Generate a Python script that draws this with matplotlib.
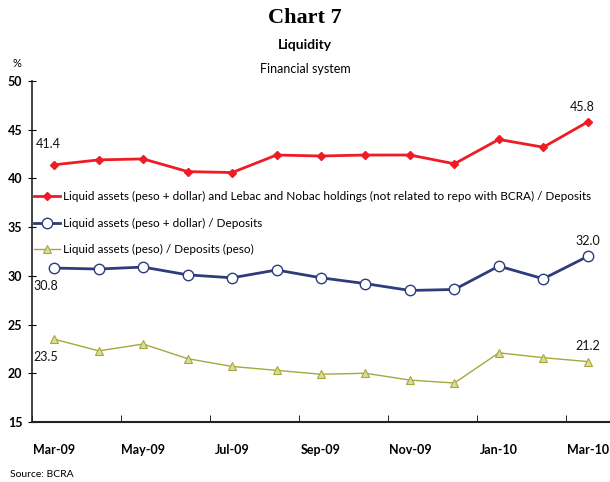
import numpy as np
import matplotlib.pyplot as plt

plt.rcParams['font.family'] = ['Lato', 'DejaVu Sans']

months = ["Mar-09", "Apr-09", "May-09", "Jun-09", "Jul-09", "Aug-09", "Sep-09",
          "Oct-09", "Nov-09", "Dec-09", "Jan-10", "Feb-10", "Mar-10"]
liq_lebac = [41.4, 41.9, 42.0, 40.7, 40.6, 42.4, 42.3, 42.4, 42.4, 41.5, 44.0, 43.2, 45.8]
liq_total = [30.8, 30.7, 30.9, 30.1, 29.8, 30.6, 29.8, 29.2, 28.5, 28.6, 31.0, 29.7, 32.0]
liq_peso = [23.5, 22.3, 23.0, 21.5, 20.7, 20.3, 19.9, 20.0, 19.3, 19.0, 22.1, 21.6, 21.2]

names = ["Liquid assets (peso + dollar) and Lebac and Nobac holdings (not related to repo with BCRA) / Deposits",
         "Liquid assets (peso + dollar) / Deposits",
         "Liquid assets (peso) / Deposits (peso)"]

x = np.arange(len(months))

fig = plt.figure(figsize=(6.1, 4.82), dpi=100)
ax = fig.add_axes([0.0525, 0.1245, 0.9475, 0.7075])

ax.plot(x, liq_lebac, color='#ee1c25', lw=2, marker='D', ms=4, label=names[0])
ax.plot(x, liq_total, color='#2e3c7c', lw=2, marker='o', ms=7.5,
        markerfacecolor='white', markeredgecolor='#2e3c7c', markeredgewidth=1, label=names[1])
ax.plot(x, liq_peso, color='#a5a83a', lw=1, marker='^', ms=6,
        markerfacecolor='#dcdc9a', markeredgecolor='#a5a83a', markeredgewidth=0.8, label=names[2])

# value labels at start and end
lab = dict(fontsize=9, color='#111111')
ax.annotate(f"{liq_lebac[0]:.1f}", (x[0], liq_lebac[0]), xytext=(-4, 12), textcoords='offset points', ha='center', **lab)
ax.annotate(f"{liq_lebac[-1]:.1f}", (x[-1], liq_lebac[-1]), xytext=(-4, 8), textcoords='offset points', ha='center', **lab)
ax.annotate(f"{liq_total[0]:.1f}", (x[0], liq_total[0]), xytext=(-6, -16), textcoords='offset points', ha='center', **lab)
ax.annotate(f"{liq_total[-1]:.1f}", (x[-1], liq_total[-1]), xytext=(0, 8), textcoords='offset points', ha='center', **lab)
ax.annotate(f"{liq_peso[0]:.1f}", (x[0], liq_peso[0]), xytext=(-6, -16), textcoords='offset points', ha='center', **lab)
ax.annotate(f"{liq_peso[-1]:.1f}", (x[-1], liq_peso[-1]), xytext=(0, 8), textcoords='offset points', ha='center', **lab)

ax.set_xlim(-0.5, len(months) - 0.5)
ax.set_ylim(15, 50)
ax.set_yticks(np.arange(15, 51, 5))
ax.set_xticks(x[::2])
ax.set_xticklabels(months[::2], fontweight='bold', fontsize=9)
ax.set_xticks(np.arange(-0.5, len(months), 2), minor=True)
ax.tick_params(axis='x', which='major', length=0, pad=16)
ax.tick_params(axis='x', which='minor', direction='in', length=5)
ax.tick_params(axis='y', direction='inout', length=6, pad=4)
for t in ax.get_yticklabels():
    t.set_fontweight('bold')
    t.set_fontsize(9)
ax.spines['top'].set_visible(False)
ax.spines['right'].set_visible(False)
ax.spines['left'].set_linewidth(1.2)
ax.spines['bottom'].set_linewidth(1.5)
ax.spines['left'].set_color('#222222')
ax.spines['bottom'].set_color('#222222')

leg = ax.legend(loc='upper left', bbox_to_anchor=(-0.005, 0.69), frameon=False, fontsize=8.5,
                handlelength=2.2, handletextpad=0.3, labelspacing=1.3, borderaxespad=0)

fig.text(0.5, 0.962, "Chart 7", ha='center', va='center', fontsize=16, fontweight='bold',
         family='Liberation Serif')
fig.text(0.5, 0.907, "Liquidity", ha='center', va='center', fontsize=10, fontweight='bold')
fig.text(0.5, 0.857, "Financial system", ha='center', va='center', fontsize=9)
fig.text(0.028, 0.869, "%", ha='center', va='center', fontsize=8)
fig.text(0.016, 0.006, "Source: BCRA", ha='left', va='bottom', fontsize=7.5)

fig.savefig("out.png", dpi=100)
